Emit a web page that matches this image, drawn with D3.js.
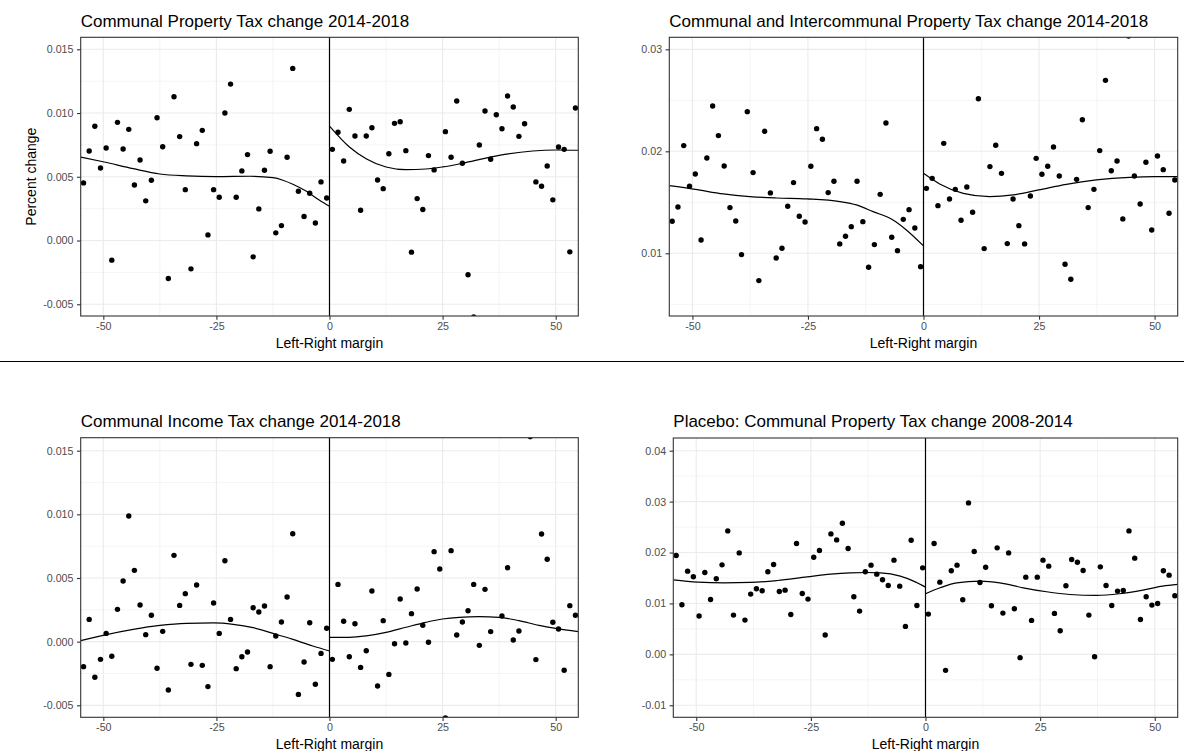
<!DOCTYPE html>
<html>
<head>
<meta charset="utf-8">
<script src="https://cdn.jsdelivr.net/npm/d3@7"></script>
<style>
  html, body { margin: 0; padding: 0; background: #ffffff; }
  svg { display: block; }
  text { font-family: "Liberation Sans", Arial, Helvetica, sans-serif; }
</style>
</head>
<body>
<svg id="chart" width="1184" height="751"></svg>
<script>
// ---------------- DATA ----------------
const titles = [
  "Communal Property Tax change 2014-2018",
  "Communal and Intercommunal Property Tax change 2014-2018",
  "Communal Income Tax change 2014-2018",
  "Placebo: Communal Property Tax change 2008-2014"
];
const xAxisTitle = "Left-Right margin";
const yAxisTitle = "Percent change";

const xTicks = [-50, -25, 0, 25, 50];
const xTickLabels = ["-50", "-25", "0", "25", "50"];
const yTicks1 = [-0.005, 0.000, 0.005, 0.010, 0.015];
const yTickLabels1 = ["-0.005", "0.000", "0.005", "0.010", "0.015"];
const yTicks2 = [0.01, 0.02, 0.03];
const yTickLabels2 = ["0.01", "0.02", "0.03"];
const yTicks3 = [-0.005, 0.000, 0.005, 0.010, 0.015];
const yTickLabels3 = ["-0.005", "0.000", "0.005", "0.010", "0.015"];
const yTicks4 = [-0.01, 0.00, 0.01, 0.02, 0.03, 0.04];
const yTickLabels4 = ["-0.01", "0.00", "0.01", "0.02", "0.03", "0.04"];

// bin centres (margin, percentage points)
const xLeft = [-54.375, -53.125, -51.875, -50.625, -49.375, -48.125, -46.875, -45.625, -44.375, -43.125,
  -41.875, -40.625, -39.375, -38.125, -36.875, -35.625, -34.375, -33.125, -31.875, -30.625,
  -29.375, -28.125, -26.875, -25.625, -24.375, -23.125, -21.875, -20.625, -19.375, -18.125,
  -16.875, -15.625, -14.375, -13.125, -11.875, -10.625, -9.375, -8.125, -6.875, -5.625,
  -4.375, -3.125, -1.875, -0.625];
const xRight = [0.625, 1.875, 3.125, 4.375, 5.625, 6.875, 8.125, 9.375, 10.625, 11.875,
  13.125, 14.375, 15.625, 16.875, 18.125, 19.375, 20.625, 21.875, 23.125, 24.375,
  25.625, 26.875, 28.125, 29.375, 30.625, 31.875, 33.125, 34.375, 35.625, 36.875,
  38.125, 39.375, 40.625, 41.875, 43.125, 44.375, 45.625, 46.875, 48.125, 49.375,
  50.625, 51.875, 53.125, 54.375];

// Panel 1: Communal Property Tax change 2014-2018
const p1Left = [0.00452, 0.00702, 0.00896, 0.00569, 0.00726, -0.00154, 0.00927, 0.00718, 0.00872, 0.00436,
  0.00632, 0.00311, 0.00473, 0.00963, 0.00736, -0.00298, 0.01128, 0.00815, 0.00399, -0.00222,
  0.00760, 0.00864, 0.00044, 0.00399, 0.00339, 0.01000, 0.01227, 0.00339, 0.00546, 0.00674,
  -0.00128, 0.00248, 0.00551, 0.00700, 0.00060, 0.00117, 0.00653, 0.01350, 0.00386, 0.00188,
  0.00371, 0.00138, 0.00460, 0.00334];
const p1Right = [0.00715, 0.00849, 0.00624, 0.01029, 0.00820, 0.00238, 0.00820, 0.00885, 0.00475, 0.00407,
  0.00681, 0.00919, 0.00932, 0.00705, -0.00091, 0.00329, 0.00243, 0.00666, 0.00554, null,
  0.00854, 0.00653, 0.01094, 0.00606, -0.00269, -0.00600, 0.00749, 0.01016, 0.00637, 0.00987,
  0.00877, 0.01133, 0.01047, 0.00817, 0.00916, null, 0.00460, 0.00426, 0.00585, 0.00319,
  0.00734, 0.00715, -0.00089, 0.01039];
const p1FitLeftX = [-55, -49.8, -43.4, -37.5, -31.6, -25, -17.6, -12.5, -10.3, -8.1, -5.1, -2.2, 0];
const p1FitLeftY = [0.00655, 0.00616, 0.00564, 0.00522, 0.00507, 0.00501, 0.00504, 0.00493, 0.00473, 0.00441, 0.00386, 0.00316, 0.00269];
const p1FitRightX = [0, 4.4, 8.1, 12.5, 16.9, 21.3, 25, 30.1, 37.5, 44.9, 50, 55];
const p1FitRightY = [0.00898, 0.00734, 0.00642, 0.00577, 0.00556, 0.00561, 0.00577, 0.00611, 0.00668, 0.00702, 0.00710, 0.00708];

// Panel 2: Communal and Intercommunal Property Tax change 2014-2018
const p2Left = [0.01314, 0.01454, 0.02056, 0.01657, 0.01778, 0.01131, 0.01935, 0.02444, 0.02154, 0.01856,
  0.01448, 0.01317, 0.00987, 0.02389, 0.01791, 0.00732, 0.02196, 0.01592, 0.00954, 0.01049,
  0.01461, 0.01693, 0.01363, 0.01307, 0.01853, 0.02222, 0.02118, 0.01595, 0.01706, 0.01092,
  0.01167, 0.01261, 0.01706, 0.01310, 0.00863, 0.01085, 0.01578, 0.02278, 0.01157, 0.01026,
  0.01333, 0.01428, 0.01248, 0.00869];
const p2Right = [0.01637, 0.01735, 0.01467, 0.02078, 0.01533, 0.01627, 0.01324, 0.01650, 0.01402, 0.02516,
  0.01046, 0.01850, 0.02059, 0.01784, 0.01095, 0.01533, 0.01271, 0.01092, 0.01562, 0.01931,
  0.01775, 0.01853, 0.02042, 0.01758, 0.00892, 0.00745, 0.01725, 0.02310, 0.01448, 0.01627,
  0.02007, 0.02696, 0.01810, 0.01905, 0.01337, 0.03130, 0.01758, 0.01484, 0.01892, 0.01229,
  0.01954, 0.01820, 0.01392, 0.01719];
const p2FitLeftX = [-55, -49.4, -43.3, -37.6, -31.8, -25.3, -18.1, -14.5, -10.9, -6.6, -3.7, 0];
const p2FitLeftY = [0.01663, 0.01627, 0.01582, 0.01556, 0.01542, 0.01533, 0.01507, 0.01474, 0.01408, 0.01327, 0.01229, 0.01072];
const p2FitRightX = [0, 3.5, 8.6, 14.3, 19.4, 24.9, 30.9, 37.4, 44.6, 50, 55];
const p2FitRightY = [0.01784, 0.01680, 0.01588, 0.01556, 0.01572, 0.01621, 0.01676, 0.01719, 0.01745, 0.01752, 0.01752];

// Panel 3: Communal Income Tax change 2014-2018
const p3Left = [-0.00196, 0.00175, -0.00280, -0.00139, 0.00065, -0.00115, 0.00254, 0.00476, 0.00987, 0.00560,
  0.00288, 0.00055, 0.00207, -0.00209, 0.00081, -0.00380, 0.00678, 0.00285, 0.00377, -0.00178,
  0.00445, -0.00186, -0.00353, 0.00304, 0.00065, 0.00636, 0.00175, -0.00212, -0.00118, -0.00081,
  0.00267, 0.00233, 0.00280, -0.00196, 0.00045, 0.00154, 0.00351, 0.00848, -0.00414, -0.00160,
  0.00149, -0.00335, -0.00092, 0.00105];
const p3Right = [-0.00139, 0.00450, 0.00160, -0.00118, 0.00141, -0.00202, -0.00071, 0.00398, -0.00348, 0.00165,
  -0.00257, -0.00016, 0.00335, -0.00010, 0.00220, 0.00414, 0.00128, -0.00005, 0.00707, 0.00571,
  -0.00600, 0.00715, 0.00052, 0.00154, 0.00243, 0.00450, -0.00029, 0.00411, 0.00079, null,
  0.00202, 0.00581, 0.00013, 0.00084, null, 0.01610, -0.00141, 0.00846, 0.00647, 0.00152,
  0.00099, -0.00225, 0.00283, 0.00207];
const p3FitLeftX = [-55, -49.8, -43.4, -37.5, -31.6, -25.7, -21.3, -16.9, -12.5, -8.1, -3.7, 0];
const p3FitLeftY = [0.00008, 0.00052, 0.00097, 0.00128, 0.00144, 0.00147, 0.00136, 0.00110, 0.00065, 0.00018, -0.00034, -0.00073];
const p3FitRightX = [0, 4.4, 8.1, 12.5, 16.9, 21.3, 25, 28.7, 33.1, 37.5, 41.9, 46.3, 50, 55];
const p3FitRightY = [0.00034, 0.00034, 0.00045, 0.00073, 0.00113, 0.00152, 0.00178, 0.00191, 0.00196, 0.00191, 0.00165, 0.00128, 0.00105, 0.00079];

// Panel 4: Placebo: Communal Property Tax change 2008-2014
const p4Left = [0.01941, 0.00974, 0.01634, 0.01523, 0.00752, 0.01608, 0.01078, 0.01484, 0.01758, 0.02425,
  0.00771, 0.01993, 0.00673, 0.01183, 0.01288, 0.01248, 0.01621, 0.01765, 0.01235, 0.01261,
  0.00784, 0.02176, 0.01196, 0.01085, 0.01908, 0.02039, 0.00379, 0.02366, 0.02248, 0.02575,
  0.02078, 0.01131, 0.00850, 0.01621, 0.01752, 0.01575, 0.01464, 0.01353, 0.01850, 0.01340,
  0.00549, 0.02242, 0.00961, 0.01699];
const p4Right = [0.00791, 0.02176, 0.01418, -0.00314, 0.01641, 0.01752, 0.01072, 0.02974, 0.02020, 0.01412,
  0.01712, 0.00954, 0.02092, 0.00810, 0.01993, 0.00895, -0.00065, 0.01516, 0.00667, 0.01516,
  0.01850, 0.01732, 0.00804, 0.00464, 0.01346, 0.01863, 0.01810, 0.01647, 0.00771, -0.00046,
  0.01719, 0.01353, 0.00961, 0.01242, 0.01255, 0.02425, 0.01889, 0.00686, 0.01131, 0.00967,
  0.01000, 0.01641, 0.01556, 0.01150];
const p4FitLeftX = [-55, -49.7, -43.9, -38.1, -32.3, -25.8, -20.7, -16.4, -12.7, -9.8, -5.5, -2.6, 0];
const p4FitLeftY = [0.01464, 0.01418, 0.01405, 0.01412, 0.01451, 0.01523, 0.01575, 0.01601, 0.01608, 0.01601, 0.01536, 0.01438, 0.01320];
const p4FitRightX = [0, 3.2, 6.8, 11.9, 16.2, 21.3, 26.4, 31.5, 37.3, 42.3, 47.4, 51.7, 55];
const p4FitRightY = [0.01190, 0.01307, 0.01405, 0.01438, 0.01405, 0.01307, 0.01229, 0.01176, 0.01157, 0.01190, 0.01261, 0.01340, 0.01373];

// ---------------- LAYOUT ----------------
const xDomain = [-55, 55];
const panels = [
  { title: titles[0], box: [80.7, 37.3, 578.3, 316], yDomain: [-0.00592, 0.01594], yTicks: yTicks1, yLabels: yTickLabels1,
    left: p1Left, right: p1Right, fl: [p1FitLeftX, p1FitLeftY], fr: [p1FitRightX, p1FitRightY], yTitle: true },
  { title: titles[1], box: [669.3, 37.3, 1177.7, 316], yDomain: [0.00385, 0.03118], yTicks: yTicks2, yLabels: yTickLabels2,
    left: p2Left, right: p2Right, fl: [p2FitLeftX, p2FitLeftY], fr: [p2FitRightX, p2FitRightY], yTitle: false },
  { title: titles[2], box: [80.7, 437.7, 578.3, 717.3], yDomain: [-0.00594, 0.01602], yTicks: yTicks3, yLabels: yTickLabels3,
    left: p3Left, right: p3Right, fl: [p3FitLeftX, p3FitLeftY], fr: [p3FitRightX, p3FitRightY], yTitle: false },
  { title: titles[3], box: [673.3, 438, 1177.7, 717.3], yDomain: [-0.01236, 0.04249], yTicks: yTicks4, yLabels: yTickLabels4,
    left: p4Left, right: p4Right, fl: [p4FitLeftX, p4FitLeftY], fr: [p4FitRightX, p4FitRightY], yTitle: false }
];

const svg = d3.select("#chart");
svg.append("rect").attr("width", 1184).attr("height", 751).attr("fill", "#ffffff");

// separator between the two rows
svg.append("line").attr("x1", 0).attr("x2", 1184).attr("y1", 361.5).attr("y2", 361.5)
  .attr("stroke", "#000000").attr("stroke-width", 1);

panels.forEach((p, i) => {
  const [x0, y0, x1, y1] = p.box;
  const x = d3.scaleLinear().domain(xDomain).range([x0, x1]);
  const y = d3.scaleLinear().domain(p.yDomain).range([y1, y0]);
  const g = svg.append("g");

  const clipId = "clip" + i;
  g.append("clipPath").attr("id", clipId).append("rect")
    .attr("x", x0).attr("y", y0).attr("width", x1 - x0).attr("height", y1 - y0);

  // minor grid
  const xMinor = [];
  for (let k = 0; k < xTicks.length - 1; k++) xMinor.push((xTicks[k] + xTicks[k + 1]) / 2);
  const yMinor = [];
  const step = p.yTicks[1] - p.yTicks[0];
  const yAll = [p.yTicks[0] - step].concat(p.yTicks, [p.yTicks[p.yTicks.length - 1] + step]);
  for (let k = 0; k < yAll.length - 1; k++) {
    const m = (yAll[k] + yAll[k + 1]) / 2;
    if (m > p.yDomain[0] && m < p.yDomain[1]) yMinor.push(m);
  }
  const grid = g.append("g").attr("clip-path", `url(#${clipId})`);
  grid.selectAll(".xminor").data(xMinor).enter().append("line")
    .attr("x1", d => x(d)).attr("x2", d => x(d)).attr("y1", y0).attr("y2", y1)
    .attr("stroke", "#ebebeb").attr("stroke-width", 0.55);
  grid.selectAll(".yminor").data(yMinor).enter().append("line")
    .attr("y1", d => y(d)).attr("y2", d => y(d)).attr("x1", x0).attr("x2", x1)
    .attr("stroke", "#ebebeb").attr("stroke-width", 0.55);
  grid.selectAll(".xmajor").data(xTicks).enter().append("line")
    .attr("x1", d => x(d)).attr("x2", d => x(d)).attr("y1", y0).attr("y2", y1)
    .attr("stroke", "#ebebeb").attr("stroke-width", 1.1);
  grid.selectAll(".ymajor").data(p.yTicks).enter().append("line")
    .attr("y1", d => y(d)).attr("y2", d => y(d)).attr("x1", x0).attr("x2", x1)
    .attr("stroke", "#ebebeb").attr("stroke-width", 1.1);

  const plot = g.append("g").attr("clip-path", `url(#${clipId})`);

  // cutoff line
  plot.append("line").attr("x1", x(0)).attr("x2", x(0)).attr("y1", y0).attr("y2", y1)
    .attr("stroke", "#000000").attr("stroke-width", 1.2);

  // points
  const pts = [];
  xLeft.forEach((xv, k) => { if (p.left[k] !== null) pts.push([xv, p.left[k]]); });
  xRight.forEach((xv, k) => { if (p.right[k] !== null) pts.push([xv, p.right[k]]); });
  plot.selectAll("circle").data(pts).enter().append("circle")
    .attr("cx", d => x(d[0])).attr("cy", d => y(d[1])).attr("r", 2.7).attr("fill", "#000000");

  // fitted lines
  const line = d3.line().x(d => x(d[0])).y(d => y(d[1])).curve(d3.curveMonotoneX);
  [p.fl, p.fr].forEach(f => {
    const data = f[0].map((xv, k) => [xv, f[1][k]]);
    plot.append("path").datum(data).attr("d", line)
      .attr("fill", "none").attr("stroke", "#000000").attr("stroke-width", 1.2);
  });

  // panel border
  g.append("rect").attr("x", x0).attr("y", y0).attr("width", x1 - x0).attr("height", y1 - y0)
    .attr("fill", "none").attr("stroke", "#333333").attr("stroke-width", 1.1);

  // x axis
  const xAxis = d3.axisBottom(x).tickValues(xTicks).tickFormat((d, k) => xTickLabels[k])
    .tickSizeInner(3.7).tickSizeOuter(0).tickPadding(2.5);
  const xg = g.append("g").attr("transform", `translate(0,${y1})`).call(xAxis);
  xg.select(".domain").remove();
  xg.selectAll(".tick line").attr("stroke", "#333333").attr("stroke-width", 1.1);
  xg.selectAll(".tick text").attr("fill", "#4d4d4d").style("font-size", "10.7px")
    .style("font-family", '"Liberation Sans", Arial, sans-serif');

  // y axis
  const yAxis = d3.axisLeft(y).tickValues(p.yTicks).tickFormat((d, k) => p.yLabels[k])
    .tickSizeInner(3.7).tickSizeOuter(0).tickPadding(3.5);
  const yg = g.append("g").attr("transform", `translate(${x0},0)`).call(yAxis);
  yg.select(".domain").remove();
  yg.selectAll(".tick line").attr("stroke", "#333333").attr("stroke-width", 1.1);
  yg.selectAll(".tick text").attr("fill", "#4d4d4d").style("font-size", "10.7px")
    .style("font-family", '"Liberation Sans", Arial, sans-serif');

  // title
  g.append("text").attr("x", x0).attr("y", y0 - 10.6)
    .attr("fill", "#000000").style("font-size", "17px").text(p.title);

  // x axis title
  g.append("text").attr("x", (x0 + x1) / 2).attr("y", y1 + 32)
    .attr("text-anchor", "middle").attr("fill", "#000000").style("font-size", "14px").text(xAxisTitle);

  if (p.yTitle) {
    g.append("text").attr("transform", `translate(35.5,${(y0 + y1) / 2}) rotate(-90)`)
      .attr("text-anchor", "middle").attr("fill", "#000000").style("font-size", "14px").text(yAxisTitle);
  }
});
</script>
</body>
</html>
